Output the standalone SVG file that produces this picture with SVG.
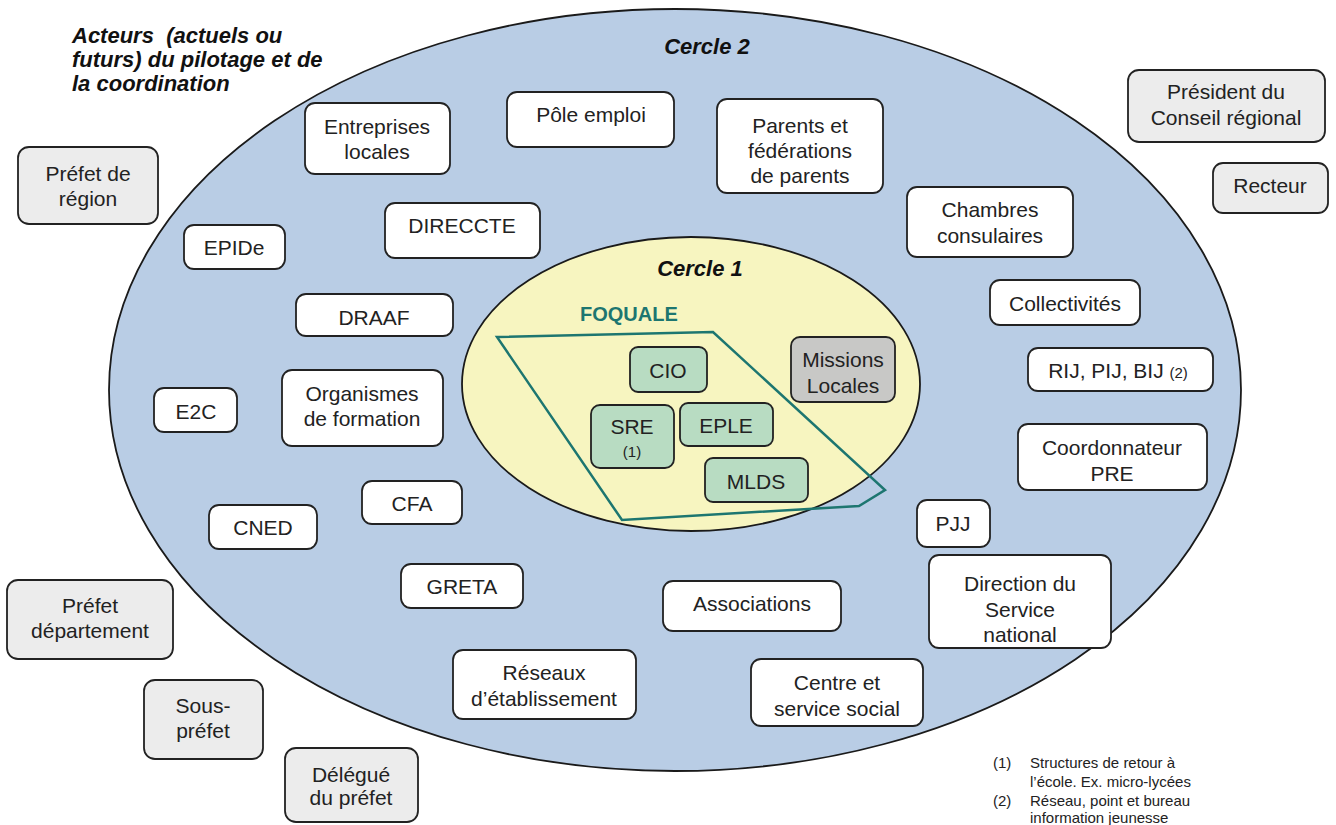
<svg xmlns="http://www.w3.org/2000/svg" width="1336" height="825" viewBox="0 0 1336 825">
<style>
.t{font-family:"Liberation Sans",Arial,sans-serif;font-size:21px;fill:#222;text-anchor:middle}
.s{font-family:"Liberation Sans",Arial,sans-serif;font-size:15px;fill:#222;text-anchor:middle}
.h{font-family:"Liberation Sans",Arial,sans-serif;font-size:22px;font-weight:bold;font-style:italic;fill:#111;white-space:pre}
.fn{font-family:"Liberation Sans",Arial,sans-serif;font-size:15px;fill:#222}
.w{fill:#fff;stroke:#222;stroke-width:1.8}
.g{fill:#ececec;stroke:#222;stroke-width:1.8}
.gr{fill:#b8dcc2;stroke:#222;stroke-width:1.8}
.ml{fill:#c8c8c6;stroke:#222;stroke-width:1.8}
</style>
<rect width="1336" height="825" fill="#fff"/>
<g id="cercle2">
<ellipse cx="675" cy="390" rx="566" ry="381" fill="#b9cde5" stroke="#1a1a1a" stroke-width="1.8"/>
<text class="h" x="707" y="54" text-anchor="middle">Cercle 2</text>
</g>
<g id="cercle1">
<ellipse cx="691" cy="384" rx="229" ry="147" fill="#f7f5c0" stroke="#1a1a1a" stroke-width="1.8"/>
<text class="h" x="700" y="276" text-anchor="middle">Cercle 1</text>
</g>
<g id="foquale">
<polygon points="497,337 713,332 885,490 859,506 622,520" fill="none" stroke="#1d7670" stroke-width="2.5"/>
<text x="580" y="321" font-family="Liberation Sans,Arial,sans-serif" font-size="20" font-weight="bold" fill="#1d7670">FOQUALE</text>
</g>
<g id="titre">
<text class="h" x="72" y="43" xml:space="preserve">Acteurs  (actuels ou</text>
<text class="h" x="72" y="67">futurs) du pilotage et de</text>
<text class="h" x="72" y="91">la coordination</text>
</g>
<g id="connectors"></g>
<g id="cio"><rect class="gr" x="630" y="347" width="77" height="45" rx="8"/><text class="t" x="668" y="378">CIO</text></g>
<g id="sre"><rect class="gr" x="591" y="405" width="83" height="63" rx="9"/><text class="t" x="632" y="434">SRE</text><text class="s" x="632" y="457">(1)</text></g>
<g id="eple"><rect class="gr" x="680" y="403" width="93" height="43" rx="8"/><text class="t" x="726" y="433">EPLE</text></g>
<g id="mlds"><rect class="gr" x="705" y="458" width="103" height="44" rx="8"/><text class="t" x="756" y="489">MLDS</text></g>
<g id="missions"><rect class="ml" x="791" y="337" width="104" height="65" rx="9"/><text class="t" x="843" y="367">Missions</text><text class="t" x="843" y="393">Locales</text></g>

<g id="entreprises"><rect class="w" x="305" y="103" width="145" height="71" rx="10"/><text class="t" x="377" y="134">Entreprises</text><text class="t" x="377" y="159">locales</text></g>
<g id="pole"><rect class="w" x="507" y="92" width="167" height="55" rx="10"/><text class="t" x="591" y="122">Pôle emploi</text></g>
<g id="parents"><rect class="w" x="717" y="99" width="166" height="94" rx="10"/><text class="t" x="800" y="133">Parents et</text><text class="t" x="800" y="158">fédérations</text><text class="t" x="800" y="183">de parents</text></g>
<g id="direccte"><rect class="w" x="385" y="203" width="155" height="55" rx="10"/><text class="t" x="462" y="233">DIRECCTE</text></g>
<g id="epide"><rect class="w" x="184" y="225" width="101" height="44" rx="10"/><text class="t" x="234" y="255">EPIDe</text></g>
<g id="chambres"><rect class="w" x="907" y="187" width="166" height="70" rx="10"/><text class="t" x="990" y="217">Chambres</text><text class="t" x="990" y="243">consulaires</text></g>
<g id="draaf"><rect class="w" x="296" y="294" width="157" height="42" rx="10"/><text class="t" x="374" y="325">DRAAF</text></g>
<g id="collectivites"><rect class="w" x="990" y="280" width="150" height="45" rx="10"/><text class="t" x="1065" y="311">Collectivités</text></g>
<g id="rij"><rect class="w" x="1028" y="348" width="185" height="43" rx="10"/><text class="t" x="1118" y="378">RIJ, PIJ, BIJ <tspan font-size="15">(2)</tspan></text></g>
<g id="coordonnateur"><rect class="w" x="1018" y="424" width="189" height="66" rx="10"/><text class="t" x="1112" y="455">Coordonnateur</text><text class="t" x="1112" y="481">PRE</text></g>
<g id="organismes"><rect class="w" x="282" y="370" width="161" height="76" rx="10"/><text class="t" x="362" y="401">Organismes</text><text class="t" x="362" y="426">de formation</text></g>
<g id="e2c"><rect class="w" x="154" y="388" width="83" height="44" rx="10"/><text class="t" x="196" y="419">E2C</text></g>
<g id="cfa"><rect class="w" x="362" y="481" width="100" height="43" rx="10"/><text class="t" x="412" y="511">CFA</text></g>
<g id="cned"><rect class="w" x="209" y="505" width="108" height="44" rx="10"/><text class="t" x="263" y="535">CNED</text></g>
<g id="pjj"><rect class="w" x="917" y="500" width="73" height="47" rx="10"/><text class="t" x="953" y="531">PJJ</text></g>
<g id="greta"><rect class="w" x="401" y="564" width="122" height="44" rx="10"/><text class="t" x="462" y="594">GRETA</text></g>
<g id="associations"><rect class="w" x="663" y="581" width="178" height="50" rx="10"/><text class="t" x="752" y="611">Associations</text></g>
<g id="direction"><rect class="w" x="929" y="555" width="182" height="93" rx="10"/><text class="t" x="1020" y="591">Direction du</text><text class="t" x="1020" y="617">Service</text><text class="t" x="1020" y="642">national</text></g>
<g id="reseaux"><rect class="w" x="453" y="650" width="183" height="69" rx="10"/><text class="t" x="544" y="680">Réseaux</text><text class="t" x="544" y="706">d’établissement</text></g>
<g id="centre"><rect class="w" x="751" y="659" width="172" height="67" rx="10"/><text class="t" x="837" y="690">Centre et</text><text class="t" x="837" y="716">service social</text></g>

<g id="president"><rect class="g" x="1128" y="70" width="197" height="72" rx="11"/><text class="t" x="1226" y="99">Président du</text><text class="t" x="1226" y="125">Conseil régional</text></g>
<g id="recteur"><rect class="g" x="1213" y="163" width="115" height="50" rx="10"/><text class="t" x="1270" y="193">Recteur</text></g>
<g id="prefet-region"><rect class="g" x="18" y="147" width="140" height="77" rx="11"/><text class="t" x="88" y="181">Préfet de</text><text class="t" x="88" y="206">région</text></g>
<g id="prefet-dep"><rect class="g" x="7" y="580" width="166" height="79" rx="11"/><text class="t" x="90" y="613">Préfet</text><text class="t" x="90" y="638">département</text></g>
<g id="sous-prefet"><rect class="g" x="144" y="680" width="119" height="79" rx="11"/><text class="t" x="203" y="713">Sous-</text><text class="t" x="203" y="738">préfet</text></g>
<g id="delegue"><rect class="g" x="285" y="748" width="133" height="74" rx="11"/><text class="t" x="351" y="782">Délégué</text><text class="t" x="351" y="805">du préfet</text></g>

<g id="notes">
<text class="fn" x="993" y="768">(1)</text><text class="fn" x="1030" y="768">Structures de retour à</text>
<text class="fn" x="1030" y="787">l’école. Ex. micro-lycées</text>
<text class="fn" x="993" y="806">(2)</text><text class="fn" x="1030" y="806">Réseau, point et bureau</text>
<text class="fn" x="1030" y="823">information jeunesse</text>
</g>
</svg>
